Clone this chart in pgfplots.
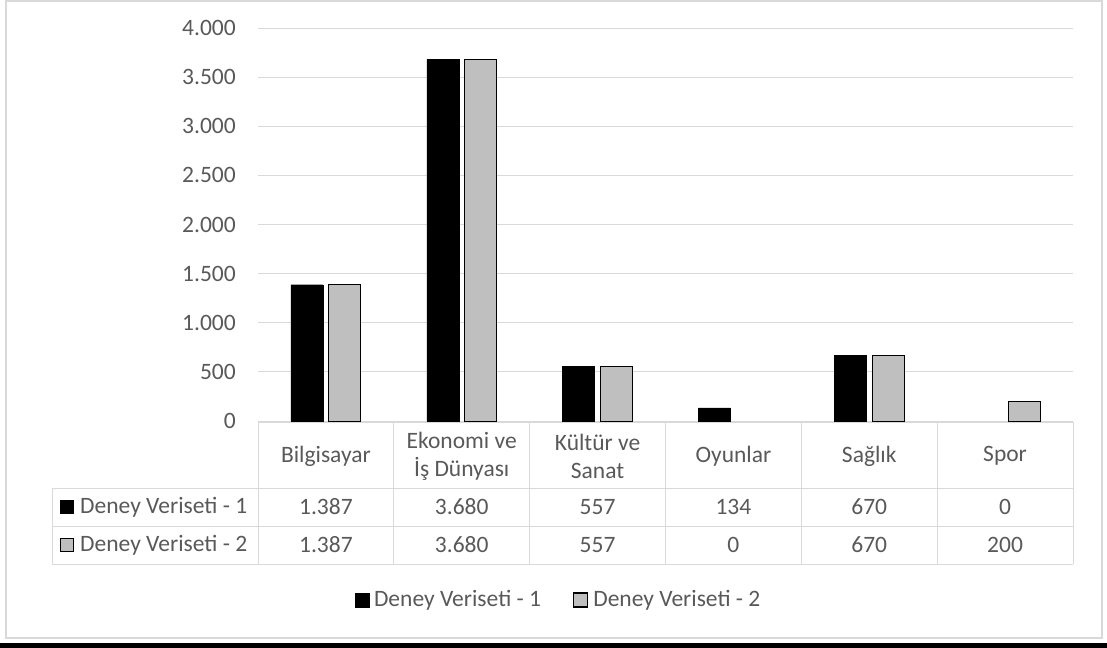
\documentclass[border=0pt]{standalone}
\usepackage{pgfplots}
\pgfplotsset{compat=1.18}
\usepackage{fontspec}
\setmainfont{Carlito}
\definecolor{txt}{HTML}{595959}
\definecolor{gridc}{HTML}{D9D9D9}
\definecolor{gbar}{HTML}{BFBFBF}

\begin{document}
\fontsize{23.5bp}{28bp}\selectfont
\begin{tikzpicture}[x=1bp,y=1bp]
\useasboundingbox (0,0) rectangle (1107,-648);
% outer frame and bottom bar
\draw[gridc, line width=1.2bp] (6,-1) rectangle (1102,-638);
\fill[black] (0,-643) rectangle (1107,-648);

\begin{axis}[
  at={(258bp,-421bp)}, anchor=south west,
  width=815bp, height=393bp, scale only axis,
  xmin=-0.5, xmax=5.5, ymin=0, ymax=4000,
  ybar=6bp, bar width=32bp,
  axis line style={draw=none},
  xtick=\empty,
  ytick={0,500,...,4000},
  ymajorgrids, grid style={gridc, line width=1bp},
  major tick length=0pt,
  yticklabel style={text=txt, anchor=east, inner sep=0pt, xshift=-22bp},
  /pgf/number format/1000 sep={.},
  /pgf/number format/assume math mode=true,
  legend columns=2,
  legend style={at={(0.3687,-0.4555)}, anchor=center, draw=none, fill=none,
    text=txt, inner sep=0pt,
    /tikz/every odd column/.append style={column sep=3bp},
    /tikz/every even column/.append style={column sep=30bp},
    nodes={inner sep=2bp}},
]
\addplot[fill=black, draw=black,
  legend image code/.code={\draw[fill=black,draw=black] (0bp,-7bp) rectangle (14bp,7bp);}]
  coordinates {(0,1387) (1,3680) (2,557) (3,134) (4,670)};
\addplot[fill=gbar, draw=black, line width=1bp,
  legend image code/.code={\draw[fill=gbar,draw=black,line width=1.3bp] (0bp,-7bp) rectangle (14bp,7bp);}]
  coordinates {(0,1387) (1,3680) (2,557) (4,670) (5,200)};
\legend{Deney Veriseti - 1, Deney Veriseti - 2}
\end{axis}

% data table
\begin{scope}[gridc, line width=1bp]
  \draw (258,-422) -- (1073,-422);
  \foreach \k in {0,...,6} \draw ({258+135.833*\k},-422) -- ({258+135.833*\k},-564);
  \foreach \yy in {488,526,564} \draw (52,-\yy) -- (1073,-\yy);
  \draw (52,-488) -- (52,-564);
\end{scope}
\foreach \lab [count=\i from 0] in {Bilgisayar, {Ekonomi ve\\İş Dünyası}, {Kültür ve\\Sanat}, Oyunlar, Sağlık, Spor}
  \node[text=txt, align=center, inner sep=0pt] at ({258+135.833*(\i+0.5)},-456) {\lab};
\foreach \v [count=\i from 0] in {1.387, 3.680, 557, 134, 670, 0}
  \node[text=txt, inner sep=0pt] at ({258+135.833*(\i+0.5)},-507) {\v};
\foreach \v [count=\i from 0] in {1.387, 3.680, 557, 0, 670, 200}
  \node[text=txt, inner sep=0pt] at ({258+135.833*(\i+0.5)},-545) {\v};
\fill[black] (60,-500) rectangle (74,-514);
\node[text=txt, anchor=west, inner sep=0pt] at (80,-507) {Deney Veriseti - 1};
\draw[fill=gbar, draw=black, line width=1.3bp] (60.5,-538.5) rectangle (73.5,-551.5);
\node[text=txt, anchor=west, inner sep=0pt] at (80,-545) {Deney Veriseti - 2};
\end{tikzpicture}
\end{document}
